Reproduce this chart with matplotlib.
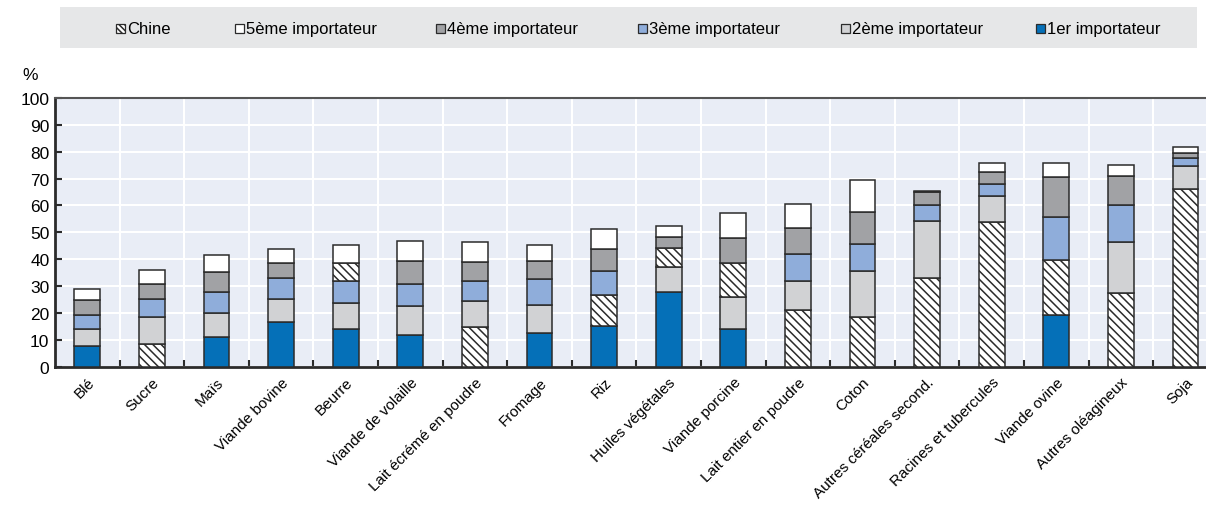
import matplotlib
matplotlib.use("Agg")
import matplotlib.pyplot as plt
from matplotlib.patches import Rectangle
import numpy as np

plt.rcParams['font.family'] = ['Liberation Sans Narrow', 'Liberation Sans', 'DejaVu Sans']
plt.rcParams['hatch.linewidth'] = 1.1

categories = ["Blé", "Sucre", "Maïs", "Viande bovine", "Beurre", "Viande de volaille",
              "Lait écrémé en poudre", "Fromage", "Riz", "Huiles végétales",
              "Viande porcine", "Lait entier en poudre", "Coton",
              "Autres céréales second.", "Racines et tubercules", "Viande ovine",
              "Autres oléagineux", "Soja"]

# share of world imports by rank of importer (%)
rank1 = [7.7, 8.3, 11.1, 16.4, 13.9, 11.9, 14.8, 12.4, 15.2, 27.6, 13.9, 21.0, 18.5, 33.0, 53.9, 19.1, 27.3, 66.1]
rank2 = [6.2, 10.2, 8.8, 8.9, 9.6, 10.7, 9.7, 10.6, 11.5, 9.3, 11.9, 11.0, 16.9, 21.2, 9.5, 20.4, 18.9, 8.7]
rank3 = [5.2, 6.6, 7.9, 7.5, 8.4, 8.1, 7.4, 9.5, 8.8, 7.1, 12.6, 9.9, 10.1, 6.0, 4.7, 16.2, 14.0, 2.7]
rank4 = [5.5, 5.6, 7.5, 5.8, 6.6, 8.6, 7.2, 6.9, 8.4, 4.3, 9.4, 9.5, 12.1, 4.9, 4.4, 14.9, 10.6, 2.0]
rank5 = [4.2, 5.3, 6.4, 5.1, 6.7, 7.4, 7.2, 5.9, 7.2, 4.2, 9.2, 9.2, 11.8, 0.4, 3.3, 5.3, 4.4, 2.2]
# rank of China among importers (0 = not in top 5)
china_rank = [0, 1, 0, 0, 4, 0, 1, 0, 2, 3, 3, 1, 1, 1, 1, 2, 1, 1]

series = [rank1, rank2, rank3, rank4, rank5]
rank_labels = ["1er importateur", "2ème importateur", "3ème importateur",
               "4ème importateur", "5ème importateur"]
rank_colors = ["#0570b8", "#d1d2d4", "#8fadda", "#a1a2a5", "#ffffff"]
edge = "#2b2b2b"
hatch = r"\\\\"

W, H = 1206, 506
fig = plt.figure(figsize=(W / 100, H / 100), dpi=100)

step = 64.6
ax = fig.add_axes([55 / W, (H - 367.5) / H, 18 * step / W, 268.5 / H])
ax.set_facecolor("#e9edf6")

x = np.arange(len(categories))
bottom = np.zeros(len(categories))
for r, vals in enumerate(series):
    vals = np.array(vals)
    for i in range(len(categories)):
        is_china = china_rank[i] == r + 1
        ax.bar(x[i], vals[i], bottom=bottom[i], width=0.4,
               color="white" if is_china else rank_colors[r],
               edgecolor=edge, linewidth=1.1,
               hatch=hatch if is_china else None, zorder=3)
    bottom += vals

ax.set_xlim(-0.5, 17.5)
ax.set_ylim(0, 100)
ax.set_yticks(np.arange(0, 101, 10))
ax.set_yticklabels([str(v) for v in range(0, 101, 10)], fontsize=12.5)
ax.set_xticks(x)
ax.set_xticklabels(categories, rotation=45, ha="right", va="top",
                   rotation_mode="anchor", fontsize=11)
ax.tick_params(axis="x", length=0, pad=6)
ax.set_xticks(np.arange(0.5, 17.5, 1), minor=True)
ax.tick_params(axis="x", which="minor", direction="in", length=5, width=1.5, color=edge)
ax.tick_params(axis="y", direction="in", length=5, width=1.5, color=edge, pad=4)
ax.grid(axis="y", color="white", linewidth=1.5, zorder=0)
ax.grid(axis="x", which="minor", color="white", linewidth=1.5, zorder=0)
ax.set_axisbelow(True)
for s in ["left", "bottom"]:
    ax.spines[s].set_color(edge)
    ax.spines[s].set_linewidth(2)
ax.spines["top"].set_color("#555555")
ax.spines["top"].set_linewidth(1.5)
ax.spines["right"].set_visible(False)

fig.text(30 / W, 1 - 76 / H, "%", fontsize=12.5, ha="center", va="center")

# legend band
lax = fig.add_axes([0, 0, 1, 1], zorder=5)
lax.set_xlim(0, W)
lax.set_ylim(H, 0)
lax.axis("off")
lax.add_patch(Rectangle((60, 8), 1137, 41, facecolor="#e6e7e8", edgecolor="none"))
legend_items = [("Chine", "white", True),
                (rank_labels[4], rank_colors[4], False),
                (rank_labels[3], rank_colors[3], False),
                (rank_labels[2], rank_colors[2], False),
                (rank_labels[1], rank_colors[1], False),
                (rank_labels[0], rank_colors[0], False)]
leg_x = [116, 235, 436, 638, 841, 1036]
for (lab, col, hch), lx in zip(legend_items, leg_x):
    lax.add_patch(Rectangle((lx, 24.5), 9, 9, facecolor=col, edgecolor=edge,
                            linewidth=0.9, hatch=r"\\\\\\" if hch else None))
    lax.text(lx + 11, 29.5, lab, fontsize=12, va="center", ha="left")

fig.savefig("out.png", dpi=100)
